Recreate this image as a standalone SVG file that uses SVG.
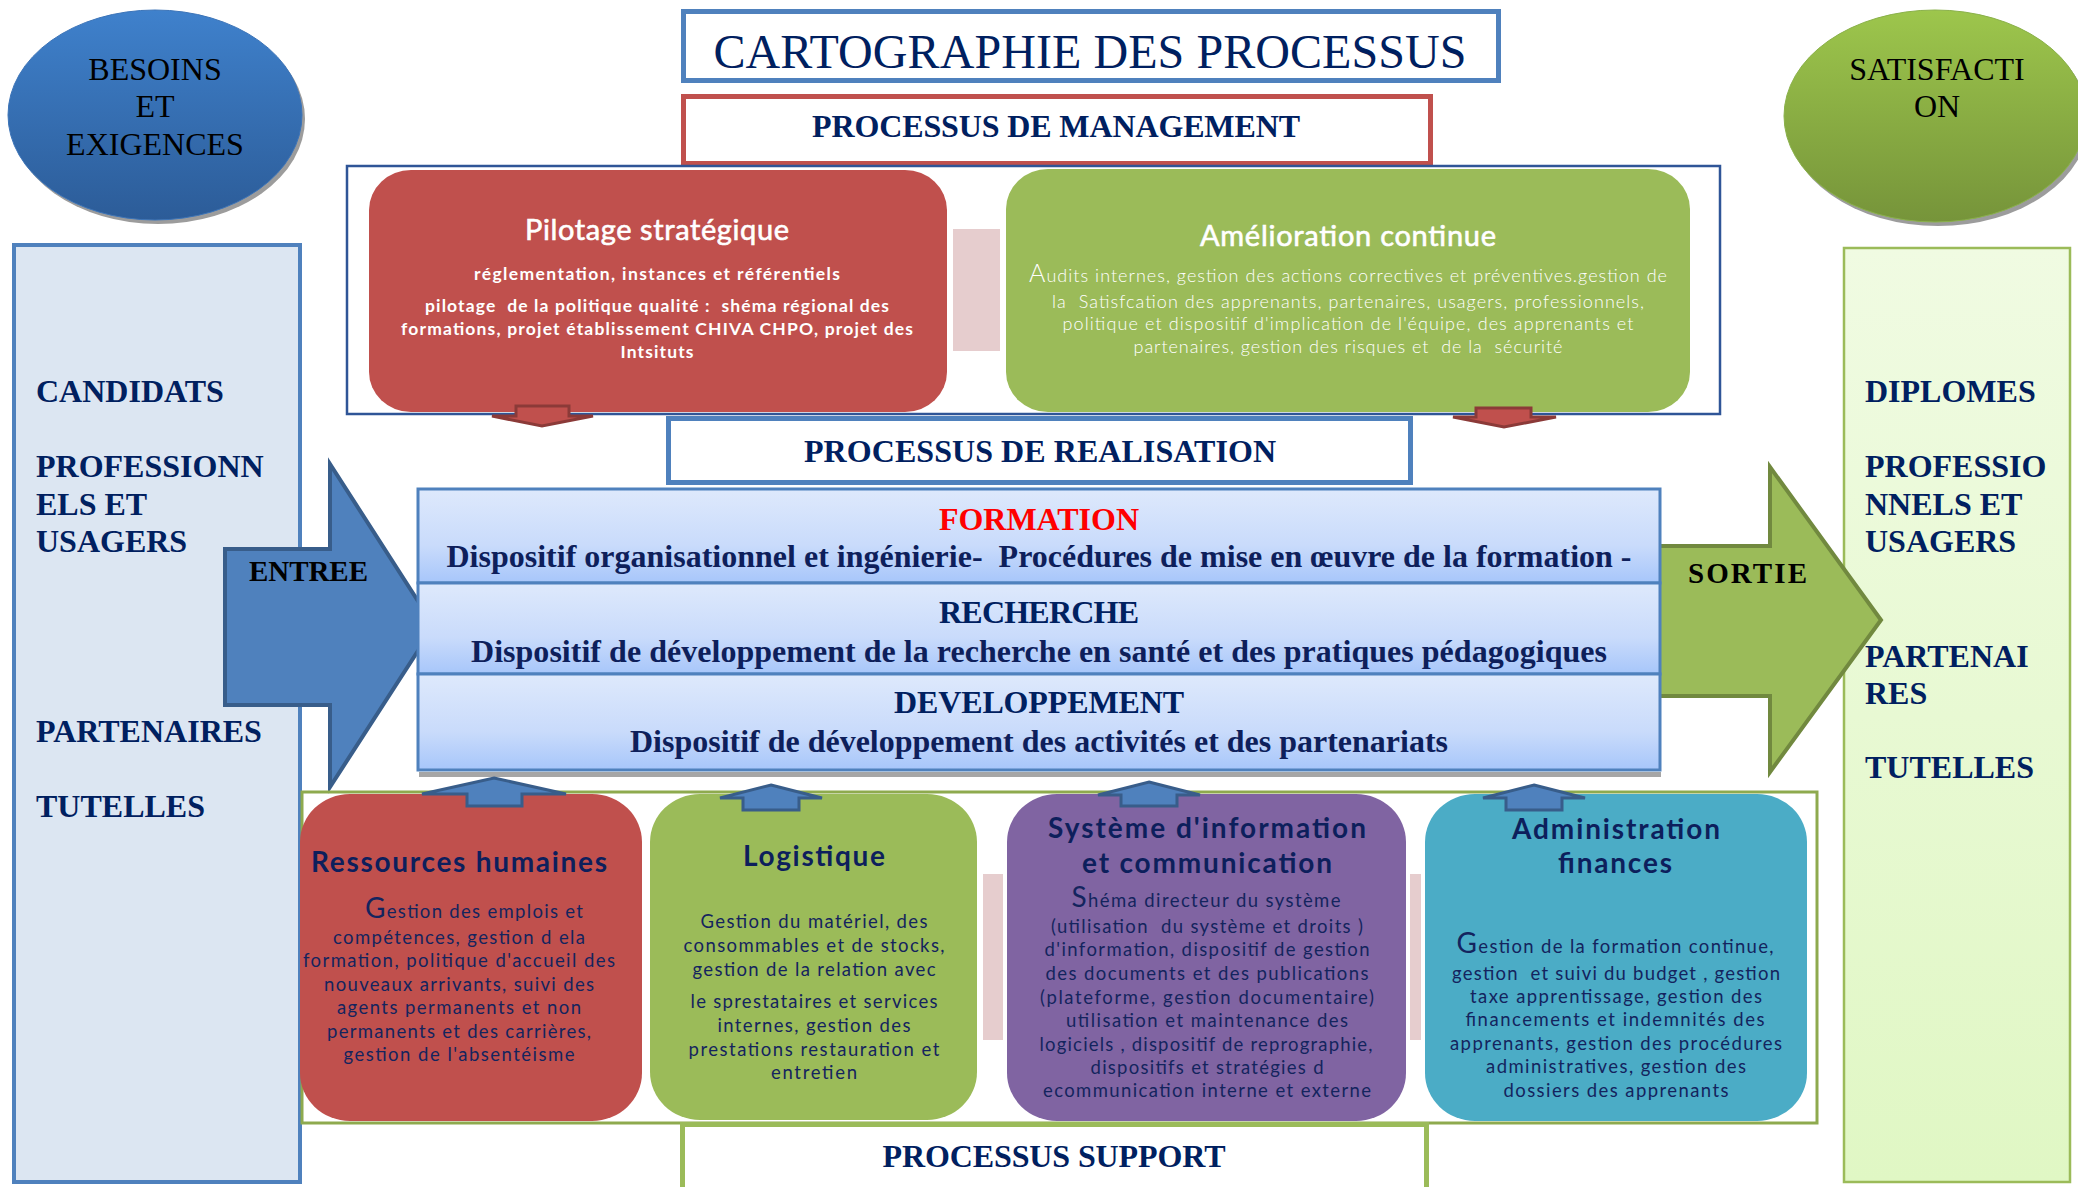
<svg xmlns="http://www.w3.org/2000/svg" width="2078" height="1187" viewBox="0 0 2078 1187">
<defs>
<style>
.serif{font-family:"Liberation Serif","Times New Roman",serif}
.sans{font-family:Lato,"Open Sans","Liberation Sans",sans-serif}
.navy{fill:#002060}
.body{fill:#14245E;font-size:18.5px}
.stitle{fill:#0D1F5C;font-size:28px;font-weight:bold}
.mid{text-anchor:middle}
.panel{font-size:32px;font-weight:bold;fill:#002060}
.head{font-size:32px;font-weight:bold;fill:#002060;text-anchor:middle}
.line{font-size:32px;font-weight:bold;fill:#0E1F5B;text-anchor:middle}
.wt{fill:#ffffff}
.mtitle{fill:#ffffff;stroke:#ffffff;stroke-width:0.6;font-size:29px}
.pink{fill:#E6CDCE}
.up{fill:#4F81BD;stroke:#385D8A;stroke-width:3;stroke-linejoin:miter}
.down{fill:#C0504D;stroke:#8B3A38;stroke-width:3}
</style>
<linearGradient id="gBlueEll" x1="0" y1="0" x2="0" y2="1">
<stop offset="0" stop-color="#3F81CC"/><stop offset="1" stop-color="#2C5C98"/>
</linearGradient>
<linearGradient id="gGreenEll" x1="0" y1="0" x2="0" y2="1">
<stop offset="0" stop-color="#9DC64C"/><stop offset="1" stop-color="#76943A"/>
</linearGradient>
<linearGradient id="gBand" x1="0" y1="0" x2="0" y2="1">
<stop offset="0" stop-color="#DEE9FC"/><stop offset="0.6" stop-color="#C9DBFB"/><stop offset="1" stop-color="#A7C6FA"/>
</linearGradient>
<linearGradient id="gRight" x1="0" y1="0" x2="0" y2="1">
<stop offset="0" stop-color="#F0FBE2"/><stop offset="1" stop-color="#E0F7C4"/>
</linearGradient>
</defs>

<rect x="0" y="0" width="2078" height="1187" fill="#ffffff"/>

<!-- ellipses -->
<g id="besoins">
<ellipse cx="158" cy="119" rx="147" ry="105" fill="#9C9C9C"/>
<ellipse cx="155" cy="115" rx="147" ry="105" fill="url(#gBlueEll)" stroke="#3C74B8" stroke-width="1"/>
<text class="serif mid" x="155" y="80" font-size="32" fill="#000">BESOINS</text>
<text class="serif mid" x="155" y="117" font-size="32" fill="#000">ET</text>
<text class="serif mid" x="155" y="155" font-size="32" fill="#000">EXIGENCES</text>
</g>

<g id="satisfaction">
<ellipse cx="1938" cy="120" rx="151" ry="106" fill="#9C9C9C"/>
<ellipse cx="1935" cy="116" rx="151" ry="106" fill="url(#gGreenEll)" stroke="#8AB14A" stroke-width="1"/>
<text class="serif mid" x="1937" y="80" font-size="32" fill="#000">SATISFACTI</text>
<text class="serif mid" x="1937" y="117" font-size="32" fill="#000">ON</text>
</g>

<!-- title -->
<g id="title">
<rect x="683.5" y="11.5" width="815" height="69" fill="#fff" stroke="#4F81BD" stroke-width="5"/>
<text class="serif" x="1090" y="68" font-size="48" fill="#002060" text-anchor="middle" textLength="753">CARTOGRAPHIE DES PROCESSUS</text>
</g>

<g id="processus-management">
<rect x="683.5" y="96.5" width="747" height="67" fill="#fff" stroke="#C0504D" stroke-width="5"/>
<text class="serif head" x="1056" y="137" textLength="488">PROCESSUS DE MANAGEMENT</text>
</g>

<!-- side panels -->
<g id="entrees-panel">
<rect x="14" y="245" width="286" height="937" fill="#DCE6F2" stroke="#4F81BD" stroke-width="4"/>
<text class="serif panel" x="36" y="402">CANDIDATS</text>
<text class="serif panel" x="36" y="477">PROFESSIONN</text>
<text class="serif panel" x="36" y="515">ELS ET</text>
<text class="serif panel" x="36" y="552">USAGERS</text>
<text class="serif panel" x="36" y="742">PARTENAIRES</text>
<text class="serif panel" x="36" y="817">TUTELLES</text>
</g>

<g id="sorties-panel">
<rect x="1844" y="248" width="226" height="934" fill="url(#gRight)" stroke="#9BBB59" stroke-width="2.5"/>
<text class="serif panel" x="1865" y="402">DIPLOMES</text>
<text class="serif panel" x="1865" y="477">PROFESSIO</text>
<text class="serif panel" x="1865" y="515">NNELS ET</text>
<text class="serif panel" x="1865" y="552">USAGERS</text>
<text class="serif panel" x="1865" y="667">PARTENAI</text>
<text class="serif panel" x="1865" y="704">RES</text>
<text class="serif panel" x="1865" y="778">TUTELLES</text>
</g>

<!-- management container -->
<g id="management-container">
<rect x="347" y="166" width="1373" height="248" fill="none" stroke="#2F5597" stroke-width="2.5"/>
</g>

<g id="pilotage">
<rect x="369" y="170" width="578" height="242" rx="42" ry="40" fill="#C0504D"/>
<text class="sans mtitle mid" x="657" y="240" textLength="264">Pilotage stratégique</text>
<text class="sans wt mid" x="657" y="280" font-size="17.5" font-weight="bold" textLength="366">réglementation, instances et référentiels</text>
<text class="sans wt mid" x="657" y="312" font-size="17.5" font-weight="bold" textLength="464" xml:space="preserve">pilotage  de la politique qualité :  shéma régional des</text>
<text class="sans wt mid" x="657" y="335" font-size="17.5" font-weight="bold" textLength="512">formations, projet établissement CHIVA CHPO, projet des</text>
<text class="sans wt mid" x="657" y="358" font-size="17.5" font-weight="bold" textLength="73">Intsituts</text>
</g>

<g id="amelioration">
<rect x="1006" y="169" width="684" height="243" rx="42" ry="40" fill="#9BBB59"/>
<text class="sans mtitle mid" x="1348" y="246" textLength="296">Amélioration continue</text>
<text class="sans wt mid" x="1348" y="282" font-size="18" font-weight="300" textLength="638"><tspan font-size="25">A</tspan>udits internes, gestion des actions correctives et préventives.gestion de</text>
<text class="sans wt mid" x="1348" y="308" font-size="18" font-weight="300" textLength="592" xml:space="preserve">la  Satisfcation des apprenants, partenaires, usagers, professionnels,</text>
<text class="sans wt mid" x="1348" y="330" font-size="18" font-weight="300" textLength="571">politique et dispositif d'implication de l'équipe, des apprenants et</text>
<text class="sans wt mid" x="1348" y="353" font-size="18" font-weight="300" textLength="429" xml:space="preserve">partenaires, gestion des risques et  de la  sécurité</text>
</g>

<g id="processus-realisation">
<rect x="668.5" y="418.5" width="742" height="64" fill="#fff" stroke="#4F81BD" stroke-width="5"/>
<text class="serif head" x="1040" y="462" textLength="472">PROCESSUS DE REALISATION</text>
</g>

<!-- big arrows -->
<g id="entree">
<polygon points="225,549 330,549 330,464 434,626 330,787 330,705 225,705" fill="#4F81BD" stroke="#385D8A" stroke-width="4" stroke-linejoin="miter"/>
<text class="serif" x="249" y="581" font-size="29" font-weight="bold" fill="#000" textLength="119">ENTREE</text>
</g>

<g id="sortie">
<polygon points="1640,546 1770,546 1770,467 1881,620 1770,772 1770,696 1640,696" fill="#9BBB59" stroke="#71893F" stroke-width="4" stroke-linejoin="miter"/>
<text class="serif" x="1688" y="583" font-size="29" font-weight="bold" fill="#000" textLength="119">SORTIE</text>
</g>

<!-- realisation band -->
<g id="realisation-band">
<rect x="419" y="772" width="1242" height="5" fill="#A6A6A6"/>
</g>
<g id="formation">
<rect x="418" y="489" width="1242" height="94" fill="url(#gBand)" stroke="#4F81BD" stroke-width="3"/>
<text class="serif" x="1039" y="530" font-size="32" font-weight="bold" fill="#FF0000" text-anchor="middle" textLength="200">FORMATION</text>
<text class="serif line" x="1039" y="567" textLength="1185" xml:space="preserve">Dispositif organisationnel et ingénierie-  Procédures de mise en œuvre de la formation -</text>
</g>
<g id="recherche">
<rect x="418" y="583" width="1242" height="91" fill="url(#gBand)" stroke="#4F81BD" stroke-width="3"/>
<text class="serif head" x="1039" y="623" textLength="200">RECHERCHE</text>
<text class="serif line" x="1039" y="662" textLength="1136">Dispositif de développement de la recherche en santé et des pratiques pédagogiques</text>
</g>
<g id="developpement">
<rect x="418" y="674" width="1242" height="96" fill="url(#gBand)" stroke="#4F81BD" stroke-width="3"/>
<text class="serif head" x="1039" y="713" textLength="290">DEVELOPPEMENT</text>
<text class="serif line" x="1039" y="752" textLength="818">Dispositif de développement des activités et des partenariats</text>
</g>

<!-- support container -->
<g id="support-container">
<rect x="302" y="792" width="1515" height="331" fill="none" stroke="#8EAA4E" stroke-width="3"/>
</g>

<g id="ressources-humaines">
<rect x="300" y="794" width="342" height="327" rx="50" ry="48" fill="#C0504D"/>
<text class="sans stitle mid" x="459" y="872" textLength="296">Ressources humaines</text>
<text class="sans body mid" x="474" y="918" textLength="218"><tspan font-size="28">G</tspan>estion des emplois et</text>
<text class="sans body mid" x="459" y="944" textLength="252">compétences, gestion d ela</text>
<text class="sans body mid" x="459" y="967" textLength="312">formation, politique d'accueil des</text>
<text class="sans body mid" x="459" y="991" textLength="270">nouveaux arrivants, suivi des</text>
<text class="sans body mid" x="459" y="1014" textLength="244">agents permanents et non</text>
<text class="sans body mid" x="459" y="1038" textLength="264">permanents et des carrières,</text>
<text class="sans body mid" x="459" y="1061" textLength="231">gestion de l'absentéisme</text>
</g>

<g id="logistique">
<rect x="650" y="794" width="327" height="326" rx="50" ry="48" fill="#9BBB59"/>
<text class="sans stitle mid" x="814" y="866" textLength="142">Logistique</text>
<text class="sans body mid" x="814" y="928" textLength="227">Gestion du matériel, des</text>
<text class="sans body mid" x="814" y="952" textLength="261">consommables et de stocks,</text>
<text class="sans body mid" x="814" y="976" textLength="243">gestion de la relation avec</text>
<text class="sans body mid" x="814" y="1008" textLength="247">le sprestataires et services</text>
<text class="sans body mid" x="814" y="1032" textLength="193">internes, gestion des</text>
<text class="sans body mid" x="814" y="1056" textLength="251">prestations restauration et</text>
<text class="sans body mid" x="814" y="1079" textLength="86">entretien</text>
</g>

<g id="systeme-information">
<rect x="1007" y="794" width="399" height="327" rx="50" ry="48" fill="#8064A2"/>
<text class="sans stitle mid" x="1207" y="838" textLength="318">Système d'information</text>
<text class="sans stitle mid" x="1207" y="873" textLength="250">et communication</text>
<text class="sans body mid" x="1206" y="907" textLength="269"><tspan font-size="28">S</tspan>héma directeur du système</text>
<text class="sans body mid" x="1207" y="933" textLength="312" xml:space="preserve">(utilisation  du système et droits )</text>
<text class="sans body mid" x="1207" y="956" textLength="325">d'information, dispositif de gestion</text>
<text class="sans body mid" x="1207" y="980" textLength="323">des documents et des publications</text>
<text class="sans body mid" x="1207" y="1004" textLength="334">(plateforme, gestion documentaire)</text>
<text class="sans body mid" x="1207" y="1027" textLength="282">utilisation et maintenance des</text>
<text class="sans body mid" x="1206" y="1051" textLength="333">logiciels , dispositif de reprographie,</text>
<text class="sans body mid" x="1207" y="1074" textLength="233">dispositifs et stratégies d</text>
<text class="sans body mid" x="1207" y="1097" textLength="328">ecommunication interne et externe</text>
</g>

<g id="administration-finances">
<rect x="1425" y="794" width="382" height="327" rx="50" ry="48" fill="#4BACC6"/>
<text class="sans stitle mid" x="1616" y="839" textLength="208">Administration</text>
<text class="sans stitle mid" x="1615" y="873" textLength="114">finances</text>
<text class="sans body mid" x="1615" y="953" textLength="317"><tspan font-size="28">G</tspan>estion de la formation continue,</text>
<text class="sans body mid" x="1616" y="980" textLength="328" xml:space="preserve">gestion  et suivi du budget , gestion</text>
<text class="sans body mid" x="1616" y="1003" textLength="292">taxe apprentissage, gestion des</text>
<text class="sans body mid" x="1615" y="1026" textLength="299">financements et indemnités des</text>
<text class="sans body mid" x="1616" y="1050" textLength="332">apprenants, gestion des procédures</text>
<text class="sans body mid" x="1616" y="1073" textLength="260">administratives, gestion des</text>
<text class="sans body mid" x="1616" y="1097" textLength="225">dossiers des apprenants</text>
</g>

<g id="processus-support">
<rect x="682.5" y="1124.5" width="744" height="80" fill="#fff" stroke="#9BBB59" stroke-width="5"/>
<text class="serif head" x="1054" y="1167" textLength="343">PROCESSUS SUPPORT</text>
</g>

<!-- connectors -->
<g id="connectors">
<rect class="pink" x="953" y="229" width="47" height="122"/>
<rect class="pink" x="983" y="874" width="20" height="166"/>
<rect class="pink" x="1410" y="874" width="11" height="166"/>
<polygon class="down" points="516,406 569,406 569,416 593,416 542,426 492,416 516,416"/>
<polygon class="down" points="1476,408 1531,408 1531,417 1556,417 1504,427 1453,417 1476,417"/>
<polygon class="up" points="494,778 566,794 522,794 522,806 467,806 467,794 422,794"/>
<polygon class="up" points="771,785 822,798 799,798 799,810 743,810 743,798 720,798"/>
<polygon class="up" points="1149,782 1200,795 1177,795 1177,806 1121,806 1121,795 1098,795"/>
<polygon class="up" points="1534,785 1585,798 1562,798 1562,810 1506,810 1506,798 1483,798"/>
</g>
</svg>
